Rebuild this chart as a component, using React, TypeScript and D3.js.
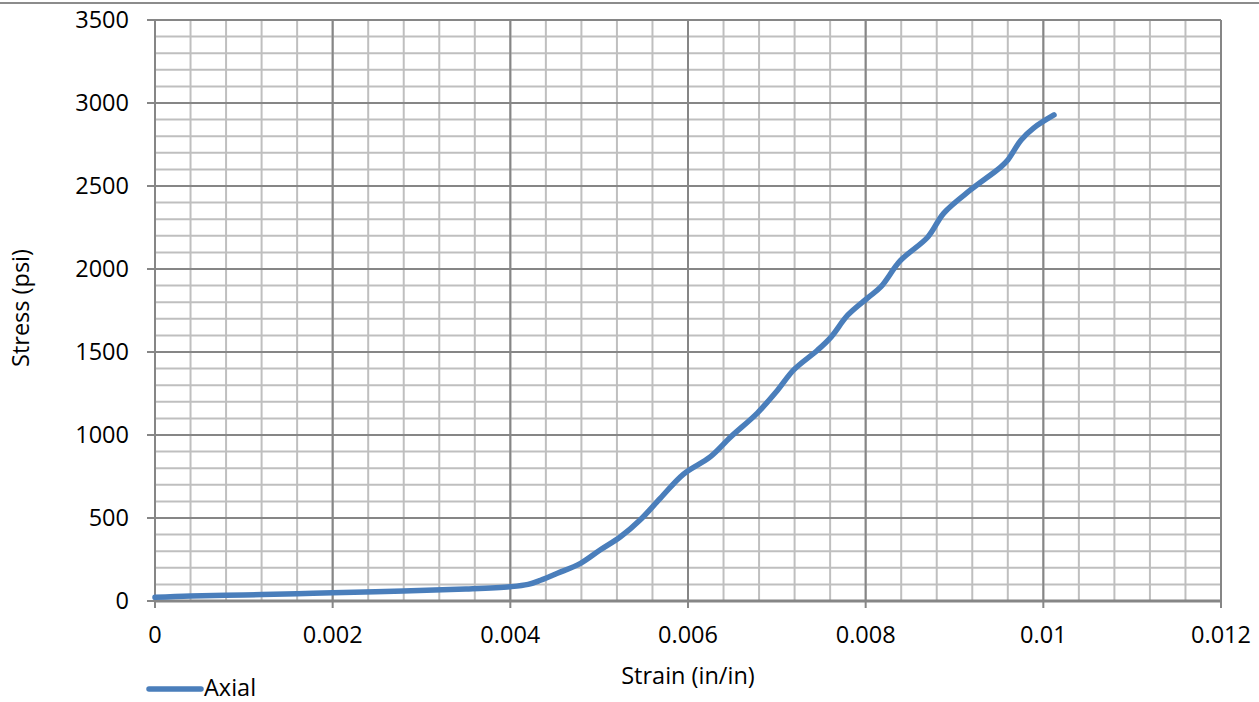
import React from "react";
import * as d3 from "d3";

const strain = [0, 0.0004, 0.001, 0.0016, 0.002, 0.0028, 0.0035, 0.004, 0.0042, 0.00434, 0.00453, 0.00479, 0.00501, 0.00524, 0.00546, 0.00569, 0.00595, 0.00625, 0.00648, 0.00678, 0.00701, 0.00719, 0.00746, 0.00761, 0.0078, 0.00802, 0.00817, 0.00839, 0.0087, 0.00888, 0.00918, 0.00952, 0.0096, 0.00975, 0.00989, 0.01012];
const stress = [22, 30, 36, 44, 50, 60, 72, 86, 100, 125, 167, 227, 307, 387, 488, 620, 765, 868, 988, 1132, 1271, 1392, 1512, 1590, 1723, 1825, 1892, 2050, 2193, 2337, 2476, 2614, 2657, 2777, 2849, 2928];
const xTicks = [0, 0.002, 0.004, 0.006, 0.008, 0.01, 0.012];
const xTickLabels = ["0", "0.002", "0.004", "0.006", "0.008", "0.01", "0.012"];
const yTicks = [0, 500, 1000, 1500, 2000, 2500, 3000, 3500];
const seriesName = "Axial";
const xTitle = "Strain (in/in)";
const yTitle = "Stress (psi)";

export default function App() {
  const W = 1259, H = 702;
  const x = d3.scaleLinear().domain([0, 0.012]).range([155, 1221]);
  const y = d3.scaleLinear().domain([0, 3500]).range([601, 20]);
  const xMinor = d3.range(0, 0.0120001, 0.0004);
  const yMinor = d3.range(0, 3500.1, 100);
  const pts: [number, number][] = strain.map((s, i) => [s, stress[i]]);
  const line = d3.line<[number, number]>().x(d => x(d[0])).y(d => y(d[1])).curve(d3.curveCatmullRom.alpha(0.5));
  const font = "'Open Sans', sans-serif";
  const fs = 23.5;
  return (
    <svg width={W} height={H} style={{ position: "absolute", left: 0, top: 0, display: "block" }}>
      <rect x={0} y={0} width={W} height={H} fill="#fff" />
      <line x1={0} x2={W} y1={3} y2={3} stroke="#8c8c8c" strokeWidth={2} />
      {xMinor.map((v, i) => (
        <line key={"xm" + i} x1={x(v)} x2={x(v)} y1={y(3500)} y2={y(0)} stroke="#bfbfbf" strokeWidth={2} />
      ))}
      {yMinor.map((v, i) => (
        <line key={"ym" + i} x1={x(0)} x2={x(0.012)} y1={y(v)} y2={y(v)} stroke="#bfbfbf" strokeWidth={2} />
      ))}
      {xTicks.map((v, i) => (
        <line key={"xM" + i} x1={x(v)} x2={x(v)} y1={y(3500)} y2={y(0) + 7} stroke="#868686" strokeWidth={2} />
      ))}
      {yTicks.map((v, i) => (
        <line key={"yM" + i} x1={x(0) - 8} x2={x(0.012)} y1={y(v)} y2={y(v)} stroke="#868686" strokeWidth={2} />
      ))}
      <line x1={x(0)} x2={x(0.012)} y1={y(0)} y2={y(0)} stroke="#868686" strokeWidth={3} />
      <line x1={x(0)} x2={x(0)} y1={y(0)} y2={y(3500)} stroke="#868686" strokeWidth={2} />
      <path d={line(pts) || ""} fill="none" stroke="#4a7ebb" strokeWidth={5.5} strokeLinecap="round" strokeLinejoin="round" />
      {yTicks.map((v, i) => (
        <text key={"yl" + i} x={129} y={y(v)} dy="0.36em" textAnchor="end" fontFamily={font} fontSize={fs} fill="#000">{v}</text>
      ))}
      {xTicks.map((v, i) => (
        <text key={"xl" + i} x={x(v)} y={635} dy="0.36em" textAnchor="middle" fontFamily={font} fontSize={fs} fill="#000">{xTickLabels[i]}</text>
      ))}
      <text x={688} y={676} dy="0.36em" textAnchor="middle" fontFamily={font} fontSize={fs} fill="#000">{xTitle}</text>
      <text transform={`translate(21,308) rotate(-90)`} dy="0.36em" textAnchor="middle" fontFamily={font} fontSize={fs} fill="#000">{yTitle}</text>
      <line x1={149} x2={201} y1={689} y2={689} stroke="#4a7ebb" strokeWidth={5.5} strokeLinecap="round" />
      <text x={204} y={688} dy="0.36em" fontFamily={font} fontSize={fs} fill="#000">{seriesName}</text>
    </svg>
  );
}
